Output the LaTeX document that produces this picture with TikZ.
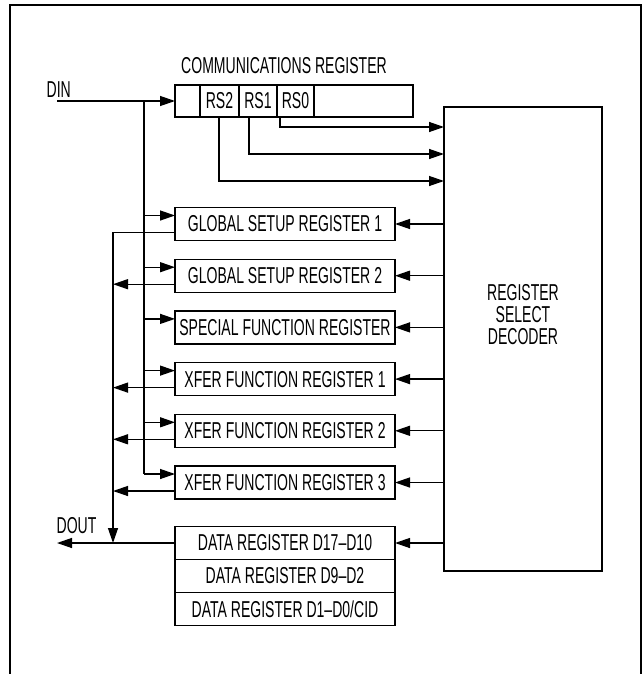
\documentclass[tikz,border=0pt]{standalone}
\usepackage{fontspec}
\setmainfont[FakeStretch=0.61]{Liberation Sans}
\usetikzlibrary{arrows.meta,positioning}

\begin{document}
\begin{tikzpicture}[x=1pt, y=-1pt, >={Triangle[length=15pt,width=10pt]},
                    node distance=51.7pt, line width=1.3pt,
                    font=\fontsize{23}{22}\selectfont,
                    reg/.style={draw, minimum width=220pt, minimum height=33pt, inner sep=0pt, outer sep=0pt},
                    cell/.style={draw, minimum height=32pt, inner sep=0pt, outer sep=0pt},
                    lbl/.style={inner sep=0pt, anchor=west}]

  \useasboundingbox (0,0) rectangle (642,674);
  \draw[line width=1.8pt] (10,674) -- (10,5) -- (641,5) -- (641,674);

  % communications register
  \node[cell, minimum width=25pt] (c0) at (187.5,101) {};
  \node[cell, minimum width=39pt, right=0pt of c0] (rs2) {RS2};
  \node[cell, minimum width=38pt, right=0pt of rs2] (rs1) {RS1};
  \node[cell, minimum width=37pt, right=0pt of rs1] (rs0) {RS0};
  \node[cell, minimum width=99pt, right=0pt of rs0] (c4) {};
  \node (title) at (284,66) {COMMUNICATIONS REGISTER};

  % decoder
  \node[draw, minimum width=158pt, minimum height=464pt, outer sep=0pt] (dec) at (523,339) {};
  \node[align=center] (declbl) at (523,315) {REGISTER\\SELECT\\DECODER};

  % registers
  \node[reg] (gsr1) at (285,224) {GLOBAL SETUP REGISTER 1};
  \node[reg] (gsr2) [below of=gsr1] {GLOBAL SETUP REGISTER 2};
  \node[reg] (sfr) [below of=gsr2] {SPECIAL FUNCTION REGISTER};
  \node[reg] (xf1) [below of=sfr] {XFER FUNCTION REGISTER 1};
  \node[reg] (xf2) [below of=xf1] {XFER FUNCTION REGISTER 2};
  \node[reg] (xf3) [below of=xf2] {XFER FUNCTION REGISTER 3};
  \node[reg] (d1) [below of=xf3, node distance=60.5pt] {DATA REGISTER D17--D10};
  \node[reg] (d2) [below of=d1, node distance=33pt] {DATA REGISTER D9--D2};
  \node[reg] (d3) [below of=d2, node distance=33pt] {DATA REGISTER D1--D0/CID};

  % pins
  \node[lbl] (dinlbl) at (46,90) {DIN};
  \node[lbl] (doutlbl) at (56,526) {DOUT};
  \coordinate (din) at (57,0);
  \coordinate (dout) at (57,0);
  \coordinate (ibus) at (144,101);
  \coordinate (obus) at (113,0);

  % input bus
  \draw[->] (c0.west -| din) -- (c0.west);
  \foreach \r in {gsr1,gsr2,sfr,xf1,xf2,xf3} {
    \coordinate (\r-in) at ([yshift=8.5pt]\r.west);
    \coordinate (\r-out) at ([yshift=-8.5pt]\r.west);
    \draw[->] (\r-in -| ibus) -- (\r-in);
  }
  \draw (ibus) -- (xf3-in -| ibus);

  % output bus
  \draw[->] (gsr1-out) -- (gsr1-out -| obus) -- (d1.west -| obus);
  \foreach \r in {gsr2,xf1,xf2,xf3}
    \draw[->] (\r-out) -- (\r-out -| obus);
  \draw[->] (d1.west) -- (d1.west -| dout);

  % register select
  \coordinate (s0) at (0,127);
  \coordinate (s1) at (0,154);
  \coordinate (s2) at (0,181);
  \draw[->] ([xshift=3pt]rs0.south west) |- (s0 -| dec.west);
  \draw[->] ([xshift=10pt]rs1.south west) |- (s1 -| dec.west);
  \draw[->] ([xshift=19pt]rs2.south west) |- (s2 -| dec.west);
  \foreach \r in {gsr1,gsr2,sfr,xf1,xf2,xf3,d1}
    \draw[->] (\r.east -| dec.west) -- (\r.east);
\end{tikzpicture}
\end{document}
